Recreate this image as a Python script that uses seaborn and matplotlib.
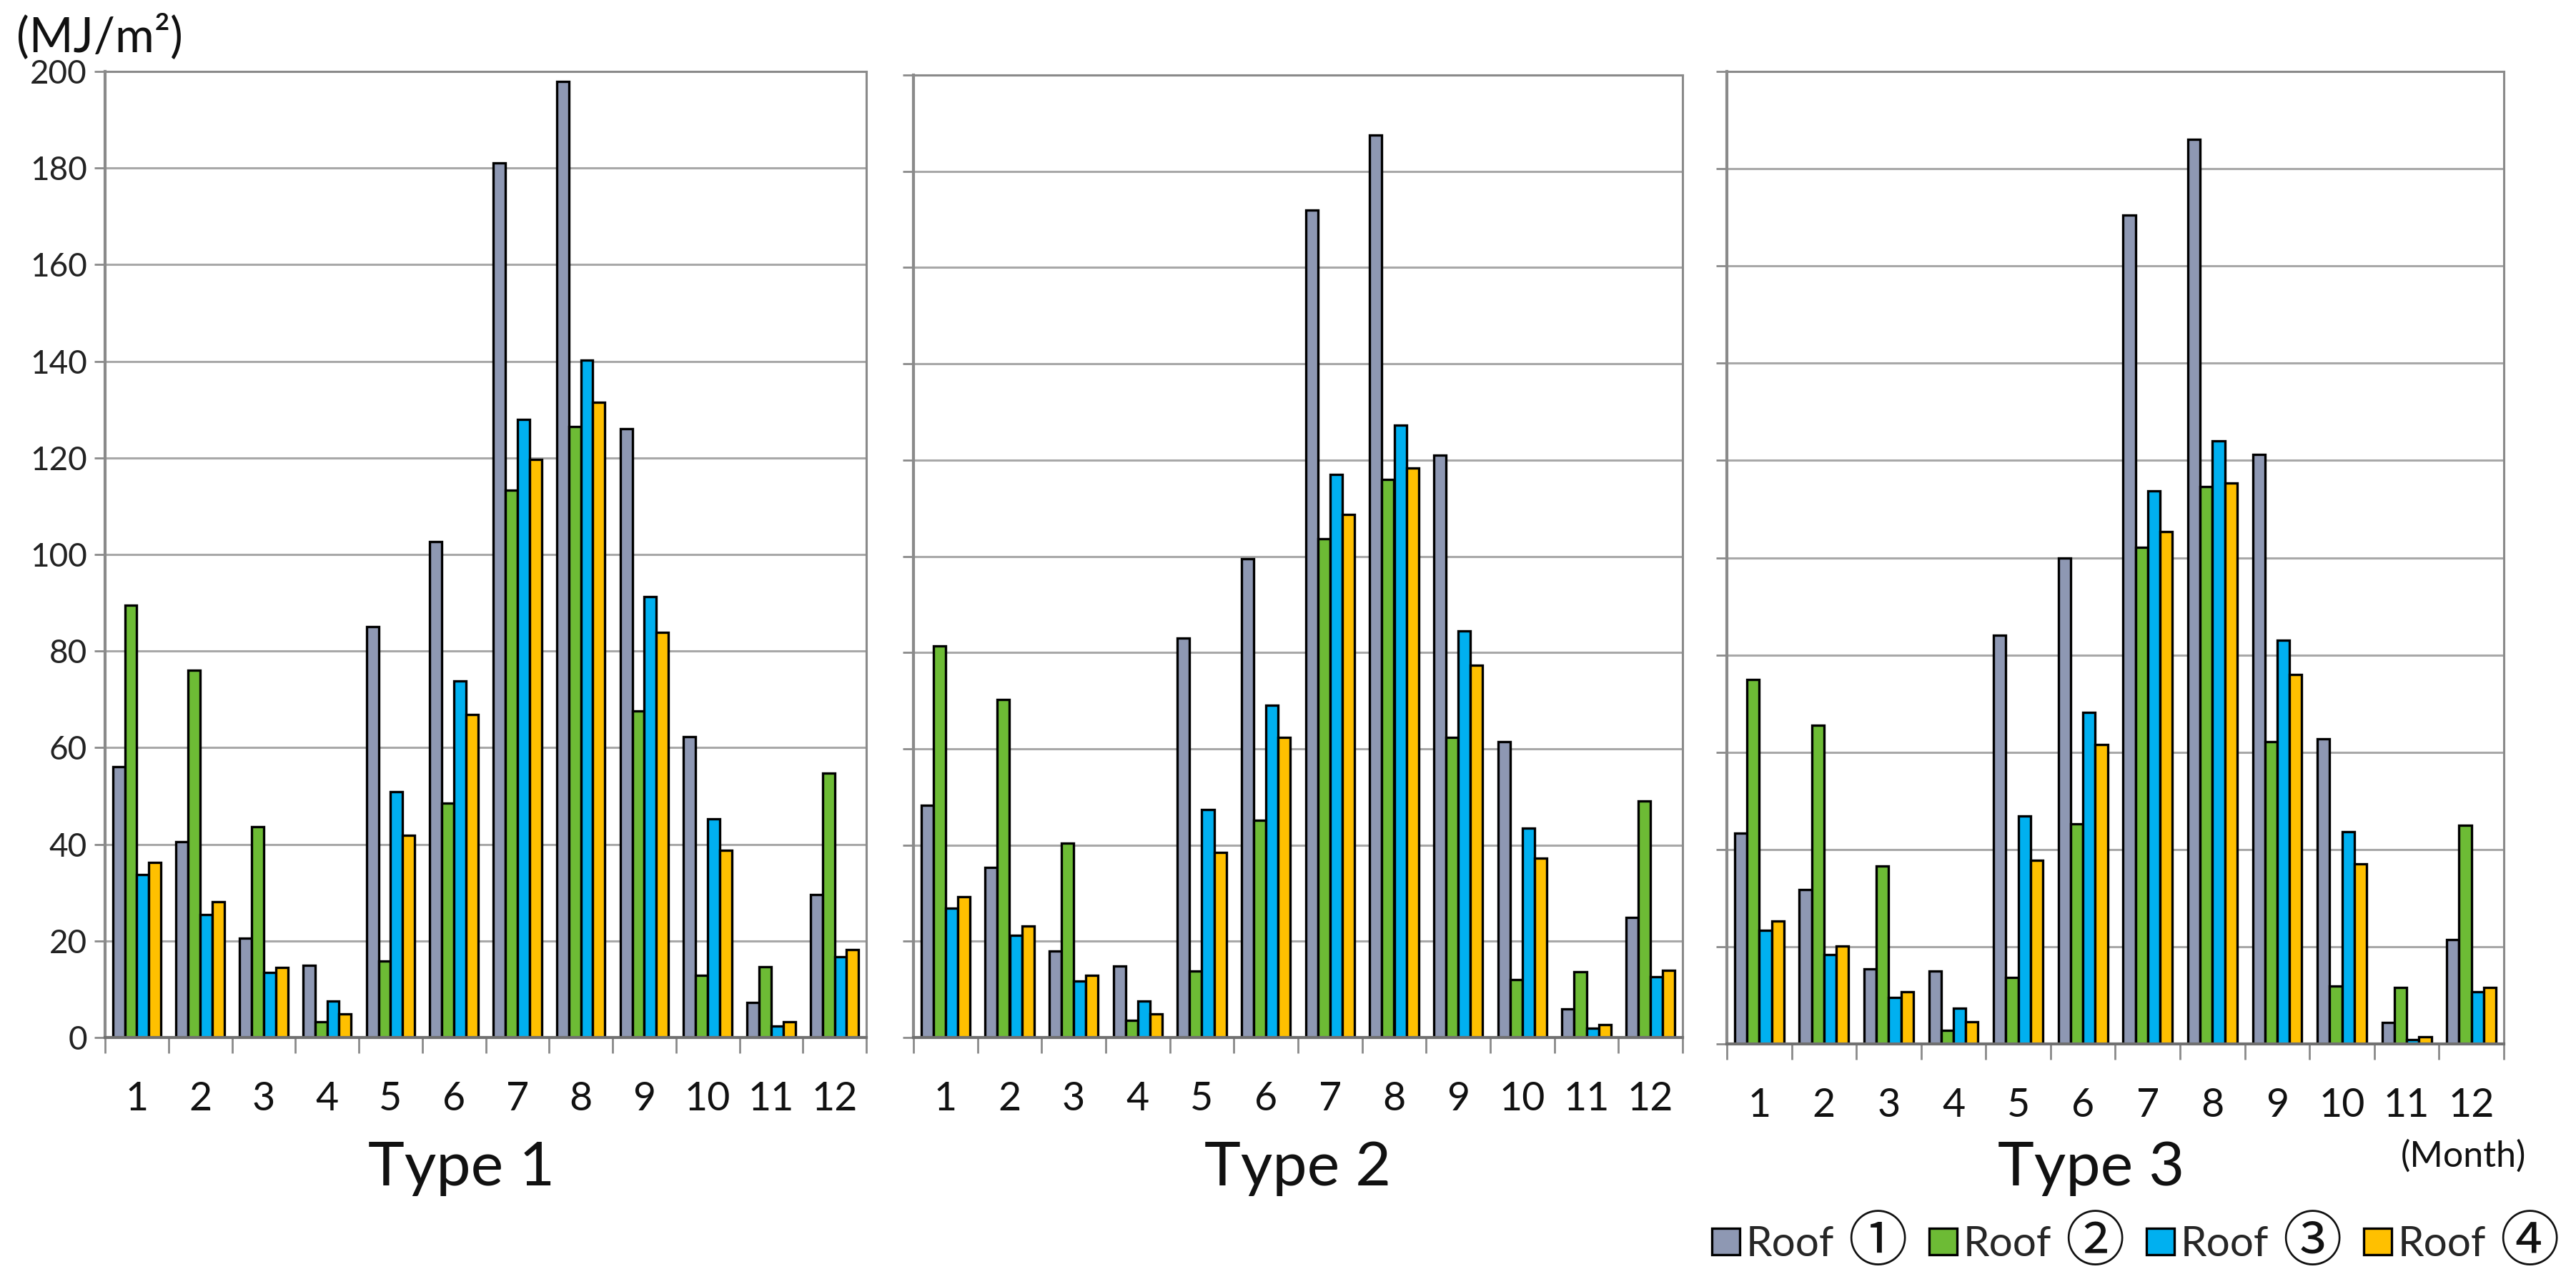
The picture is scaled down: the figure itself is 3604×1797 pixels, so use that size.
import numpy as np
import pandas as pd
import matplotlib
matplotlib.use('Agg')
import matplotlib.pyplot as plt
from matplotlib.patches import Patch
from matplotlib.ticker import MultipleLocator, FixedLocator
import seaborn as sns

# ---------------- data ----------------
months = list(range(1, 13))
roof_word = 'Roof'
roof_marks = ['①', '②', '③', '④']
roofs = [f'{roof_word} {m}' for m in roof_marks]
panel_titles = ['Type 1', 'Type 2', 'Type 3']
roof_colors = ['#8E98B3', '#6DBB35', '#00B0F0', '#FFC000']

type1_roof1 = [56.0, 40.5, 20.5, 15.0, 85.0, 102.7, 181.0, 198.0, 126.0, 62.3, 7.2, 29.6]
type1_roof2 = [89.5, 76.0, 43.7, 3.3, 15.8, 48.5, 113.3, 126.5, 67.6, 12.8, 14.7, 54.8]
type1_roof3 = [33.7, 25.4, 13.4, 7.5, 50.9, 73.8, 128.0, 140.3, 91.2, 45.2, 2.3, 16.7]
type1_roof4 = [36.2, 28.1, 14.5, 4.9, 41.8, 66.8, 119.7, 131.5, 83.9, 38.8, 3.3, 18.2]

type2_roof1 = [48.3, 35.4, 18.0, 14.8, 83.0, 99.5, 172.0, 187.5, 121.0, 61.5, 6.0, 25.0]
type2_roof2 = [81.3, 70.2, 40.4, 3.6, 13.8, 45.2, 103.6, 116.0, 62.3, 12.0, 13.6, 49.2]
type2_roof3 = [26.9, 21.2, 11.8, 7.5, 47.4, 69.0, 117.0, 127.3, 84.5, 43.5, 2.0, 12.6]
type2_roof4 = [29.2, 23.1, 12.9, 4.9, 38.4, 62.3, 108.7, 118.3, 77.4, 37.3, 2.6, 13.9]

type3_roof1 = [43.4, 31.7, 15.4, 15.0, 84.0, 100.0, 170.5, 186.0, 121.2, 62.8, 4.4, 21.5]
type3_roof2 = [75.0, 65.5, 36.6, 2.8, 13.7, 45.3, 102.2, 114.6, 62.2, 11.9, 11.6, 45.0]
type3_roof3 = [23.3, 18.3, 9.5, 7.3, 46.9, 68.2, 113.7, 124.0, 83.0, 43.7, 0.9, 10.7]
type3_roof4 = [25.3, 20.1, 10.8, 4.5, 37.7, 61.5, 105.4, 115.3, 76.0, 37.1, 1.4, 11.6]

panel_data = [
    [type1_roof1, type1_roof2, type1_roof3, type1_roof4],
    [type2_roof1, type2_roof2, type2_roof3, type2_roof4],
    [type3_roof1, type3_roof2, type3_roof3, type3_roof4],
]

# ---------------- style ----------------
sns.set_theme(style='white')
plt.rcParams['font.family'] = ['Lato', 'Noto Sans CJK JP', 'DejaVu Sans']

W, H = 3604, 1797
fig = plt.figure(figsize=(W / 100, H / 100), dpi=100)
fig.patch.set_facecolor('white')

def px_axes(left, right, top, bottom):
    return fig.add_axes([left / W, 1 - bottom / H, (right - left) / W, (bottom - top) / H])

axes = [
    px_axes(147, 1212, 100, 1452),
    px_axes(1278, 2354, 105, 1452),
    px_axes(2416, 3503, 100, 1461),
]

spine_col = '#8A8A8A'
for i, ax in enumerate(axes):
    rows = []
    for r, vals in zip(roofs, panel_data[i]):
        for m, v in zip(months, vals):
            rows.append({'Month': m, 'Value': v, 'Roof': r})
    df = pd.DataFrame(rows)
    sns.barplot(data=df, x='Month', y='Value', hue='Roof', order=months,
                hue_order=roofs, palette=roof_colors, width=0.76, gap=0,
                edgecolor='black', linewidth=2.4, errorbar=None,
                legend=False, ax=ax, saturation=1)
    ax.set_xlim(-0.5, 11.5)
    ax.set_ylim(0, 200)
    ax.yaxis.set_major_locator(MultipleLocator(20))
    ax.grid(axis='y', color='#A8A8A8', lw=2.2)
    ax.grid(axis='x', visible=False)
    ax.set_axisbelow(True)
    ax.xaxis.set_minor_locator(FixedLocator(np.arange(-0.5, 12, 1)))
    ax.tick_params(axis='x', which='major', length=0, pad=44, labelsize=40,
                   labelcolor='#111111')
    ax.tick_params(axis='x', which='minor', length=16, width=2,
                   color=spine_col, direction='out', bottom=True)
    ax.tick_params(axis='y', length=11, width=2, color=spine_col,
                   direction='out', labelsize=33, pad=7, left=True,
                   labelcolor='#222222')
    if i > 0:
        ax.tick_params(axis='y', labelleft=False)
    ax.set_xlabel('')
    ax.set_ylabel('')
    for side, sp in ax.spines.items():
        sp.set_visible(True)
        sp.set_color(spine_col)
        sp.set_linewidth(2.2)
    ax.spines['left'].set_linewidth(3.0)
    ax.spines['bottom'].set_color('#707070')
    ax.spines['bottom'].set_linewidth(3.0)

# ---------------- texts ----------------
fig.text(139 / W, 1 - 72 / H, '(MJ/m²)', ha='center', va='baseline',
         fontsize=48, color='#111111')
title_x = [646, 1816, 2926]
for tx, t in zip(title_x, panel_titles):
    fig.text(tx / W, 1 - 1659 / H, t, ha='center', va='baseline',
             fontsize=62, color='#111111')
fig.text(3446 / W, 1 - 1618 / H, '(Month)', ha='center', va='center',
         fontsize=36, color='#111111')

# ---------------- legend ----------------
# the word goes in the legend; enlarged circled numerals are placed after it,
# and the column spacing is measured so numerals never touch the next swatch
handles = [Patch(facecolor=c, edgecolor='black', linewidth=2.4) for c in roof_colors]
legend_fs = 42
legend_y = 1 - 1742 / H
mark_texts = [fig.text(0, 0, m, ha='left', va='center', fontsize=60,
                       color='#111111', family=['Noto Sans CJK JP', 'DejaVu Sans'])
              for m in roof_marks]

def layout(colspace, x0):
    leg = fig.legend(handles, [roof_word] * len(roofs), loc='center left',
                     bbox_to_anchor=(x0 / W, legend_y), ncol=4, frameon=False,
                     fontsize=legend_fs, handlelength=0.66, handleheight=0.6,
                     handletextpad=0.15, columnspacing=colspace, borderpad=0,
                     borderaxespad=0)
    fig.canvas.draw()
    rend = fig.canvas.get_renderer()
    for t, mk in zip(leg.get_texts(), mark_texts):
        bb = t.get_window_extent(rend)
        mk.set_position(((bb.x1 + 20) / W, (bb.y0 + 0.55 * bb.height) / H))
    fig.canvas.draw()
    return leg, rend

colspace = 2.3
x0 = 2395
leg, rend = layout(colspace, x0)
hb = [h.get_window_extent(rend) for h in leg.legend_handles]
mb = [m.get_window_extent(rend) for m in mark_texts]
gap = min(hb[k + 1].x0 - mb[k].x1 for k in range(len(hb) - 1))
colspace += (30 - gap) / (legend_fs * 100 / 72)
leg.remove()
leg, rend = layout(colspace, x0)
over = mark_texts[-1].get_window_extent(rend).x1 - (W - 14)
if over > 0:
    leg.remove()
    leg, rend = layout(colspace, x0 - over)

fig.savefig('out.png', dpi=100, facecolor='white')
